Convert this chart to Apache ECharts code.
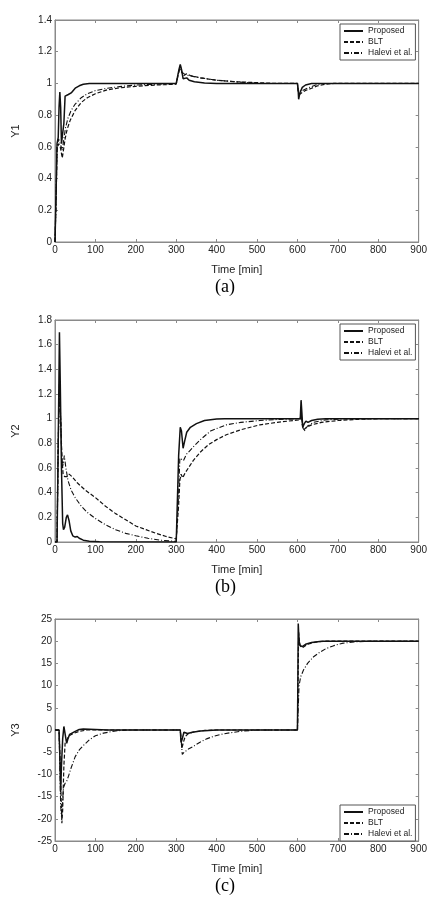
<!DOCTYPE html>
<html>
<head>
<meta charset="utf-8">
<script src="https://cdn.jsdelivr.net/npm/echarts@6/dist/echarts.min.js"></script>
<style>
  html, body { margin: 0; padding: 0; background: #fff; }
  #chart { width: 430px; height: 902px; }
</style>
</head>
<body>
<div id="chart"></div>
<script>
// [time (min), value]
const y1Proposed = [[0,0],[3,0.35],[5,0.62],[8,0.66],[10,0.85],[12,0.945],[14,0.85],[16,0.62],[19,0.62],[22,0.75],[25,0.92],[29,0.91],[33,0.93],[40,0.94],[50,0.97],[60,0.985],[70,0.995],[85,1],[300,1],[304,1],[307,1.09],[310,1.12],[313,1.09],[317,1.03],[321,1.02],[326,1.035],[332,1.02],[345,1.01],[370,1.003],[400,1],[600,1],[602,0.95],[603,0.9],[606,0.94],[612,0.975],[620,0.99],[635,1],[900,1]];
const y1Blt = [[0,0],[3,0.3],[5,0.58],[9,0.62],[13,0.6],[18,0.53],[21,0.58],[25,0.65],[30,0.71],[38,0.77],[50,0.83],[65,0.88],[80,0.91],[100,0.935],[130,0.96],[160,0.972],[200,0.982],[250,0.99],[300,0.995],[304,1],[307,1.08],[310,1.11],[314,1.07],[319,1.05],[325,1.06],[335,1.05],[360,1.035],[400,1.02],[450,1.01],[500,1.005],[550,1],[600,1],[602,0.95],[605,0.93],[610,0.94],[620,0.955],[635,0.97],[650,0.985],[670,0.995],[690,1],[900,1]];
const y1Halevi = [[0,0],[3,0.3],[5,0.6],[9,0.65],[13,0.65],[18,0.58],[22,0.65],[26,0.72],[32,0.78],[40,0.83],[50,0.87],[65,0.91],[80,0.935],[100,0.955],[130,0.97],[160,0.98],[200,0.99],[250,0.995],[300,1],[304,1],[307,1.08],[310,1.1],[314,1.07],[320,1.06],[330,1.05],[360,1.035],[400,1.02],[450,1.01],[500,1],[600,1],[602,0.95],[605,0.94],[612,0.955],[625,0.97],[645,0.99],[665,1],[900,1]];

const y2Proposed = [[0,0],[5,0],[8,0.8],[11,1.7],[13,1.3],[16,0.6],[19,0.15],[21,0.1],[24,0.12],[28,0.2],[31,0.22],[35,0.17],[39,0.09],[44,0.05],[50,0.04],[55,0.045],[60,0.03],[70,0.015],[85,0.007],[110,0.002],[300,0],[303,0],[306,0.7],[310,0.93],[313,0.9],[317,0.76],[321,0.82],[326,0.89],[335,0.93],[350,0.96],[370,0.985],[400,0.998],[420,1],[607,1],[609,1.15],[611,1.05],[613,0.93],[617,0.96],[621,0.98],[626,0.97],[635,0.985],[650,0.995],[670,1],[900,1]];
const y2Blt = [[0,0],[5,0],[8,0.8],[11,1.28],[14,1],[17,0.7],[20,0.55],[24,0.53],[30,0.53],[35,0.55],[42,0.53],[55,0.48],[75,0.42],[100,0.36],[125,0.29],[150,0.23],[175,0.18],[200,0.13],[225,0.1],[250,0.07],[275,0.045],[300,0.025],[303,0.02],[306,0.3],[309,0.5],[312,0.55],[316,0.52],[322,0.56],[330,0.6],[342,0.66],[360,0.73],[380,0.79],[400,0.83],[424,0.87],[460,0.91],[507,0.95],[550,0.97],[589,0.985],[607,0.99],[609,1.05],[612,0.95],[616,0.91],[622,0.93],[635,0.95],[660,0.97],[700,0.985],[750,0.995],[800,1],[900,1]];
const y2Halevi = [[0,0],[5,0],[8,0.8],[11,1.25],[14,1],[17,0.68],[20,0.62],[23,0.7],[27,0.6],[32,0.5],[40,0.42],[50,0.36],[65,0.29],[80,0.24],[100,0.19],[125,0.14],[150,0.1],[175,0.07],[200,0.05],[230,0.03],[260,0.015],[300,0.005],[303,0.005],[306,0.4],[309,0.68],[313,0.68],[318,0.66],[325,0.71],[342,0.77],[360,0.83],[385,0.9],[424,0.95],[460,0.97],[507,0.985],[550,0.993],[607,1],[609,1.05],[613,0.93],[617,0.9],[625,0.94],[640,0.97],[670,0.99],[720,1],[900,1]];

const y3Proposed = [[0,0],[10,0],[12,-6],[14,-14],[16,-8],[19,-2],[22,0.8],[24,0.5],[27,-2],[29,-3],[32,-2],[36,-1],[42,-0.7],[50,-0.3],[60,0.1],[70,0.2],[100,0.1],[130,0],[310,0],[312,-2.8],[315,-2],[319,-0.5],[323,-0.4],[328,-0.8],[340,-0.5],[360,-0.2],[400,0],[600,0],[601,10],[602,24],[604,20],[607,19],[612,18.8],[620,19.3],[635,19.7],[660,20],[900,20]];
const y3Blt = [[0,0],[10,0],[12,-5],[15,-15],[17,-21],[19,-18],[22,-8],[25,-3],[30,-2],[37,-1.2],[45,-0.8],[60,-0.3],[80,0],[310,0],[312,-2],[314,-4.2],[317,-3],[322,-1.5],[330,-0.8],[345,-0.4],[370,-0.1],[400,0],[600,0],[601,8],[603,22],[606,19],[612,18.5],[625,19.3],[645,19.8],[670,20],[900,20]];
const y3Halevi = [[0,0],[10,0],[12,-8],[14,-17],[16,-19.5],[18,-17],[21,-13],[25,-12],[29,-11.5],[33,-10.5],[40,-8.5],[50,-6],[60,-4.5],[70,-3.5],[85,-2.2],[100,-1.3],[120,-0.7],[150,-0.2],[180,0],[310,0],[312,-2],[315,-5.5],[320,-5],[330,-4.3],[342,-3.7],[360,-2.7],[375,-2],[390,-1.5],[410,-1],[435,-0.6],[460,-0.3],[500,0],[600,0],[602,5],[604,10],[608,12],[615,13.5],[625,15],[640,16.5],[655,17.5],[670,18.3],[690,19],[710,19.5],[740,19.85],[780,20],[900,20]];

const names = ['Proposed', 'BLT', 'Halevi et al.'];
const panels = [
  { label: 'Y1', tag: '(a)', min: 0, max: 1.4, step: 0.2, data: [y1Proposed, y1Blt, y1Halevi] },
  { label: 'Y2', tag: '(b)', min: 0, max: 1.8, step: 0.2, data: [y2Proposed, y2Blt, y2Halevi] },
  { label: 'Y3', tag: '(c)', min: -25, max: 25, step: 5, data: [y3Proposed, y3Blt, y3Halevi] },
];
const gridTops = [20, 320, 619];
const legendTops = [24, 324, 805];
const lineTypes = ['solid', [4, 2], [5, 2, 1, 2]];
const lineWidths = [1.5, 1.2, 1.1];

const font = 'Liberation Sans, Arial, sans-serif';
const boxColor = '#8a8a8a';
const ink = '#222';

const chart = echarts.init(document.getElementById('chart'));

const grid = [], xAxis = [], yAxis = [], series = [], legend = [], graphic = [];
panels.forEach((p, i) => {
  grid.push({ left: 55, top: gridTops[i], width: 364, height: 222, show: true, borderColor: boxColor, borderWidth: 1 });
  const tick = { show: true, inside: true, length: 3, lineStyle: { color: boxColor } };
  const line = { show: true, onZero: false, lineStyle: { color: boxColor } };
  xAxis.push({
    type: 'value', gridIndex: i, min: 0, max: 900, interval: 100,
    name: 'Time [min]', nameLocation: 'middle', nameGap: 22,
    nameTextStyle: { fontFamily: font, fontSize: 11, color: ink },
    axisLine: line, axisTick: tick,
    axisLabel: { fontFamily: font, fontSize: 10, color: ink, margin: 3 },
    splitLine: { show: false },
  });
  xAxis.push({
    type: 'value', gridIndex: i, position: 'top', min: 0, max: 900, interval: 100,
    axisLine: line, axisTick: tick,
    axisLabel: { show: false }, splitLine: { show: false },
  });
  yAxis.push({
    type: 'value', gridIndex: i, min: p.min, max: p.max, interval: p.step,
    name: p.label, nameLocation: 'middle', nameGap: 34, nameRotate: 90,
    nameTextStyle: { fontFamily: font, fontSize: 11, color: ink },
    axisLine: line, axisTick: tick,
    axisLabel: { fontFamily: font, fontSize: 10, color: ink, margin: 3 },
    splitLine: { show: false },
  });
  yAxis.push({
    type: 'value', gridIndex: i, position: 'right', min: p.min, max: p.max, interval: p.step,
    axisLine: line, axisTick: tick,
    axisLabel: { show: false }, splitLine: { show: false },
  });
  p.data.forEach((d, k) => {
    series.push({
      name: names[k], type: 'line', xAxisIndex: i * 2, yAxisIndex: i * 2,
      data: d, symbol: 'none', z: 10 - k,
      lineStyle: { color: '#111', width: lineWidths[k], type: lineTypes[k] },
      itemStyle: { color: '#111' },
    });
  });
  legend.push({
    data: names, orient: 'vertical', left: 340, top: legendTops[i],
    itemWidth: 19, itemHeight: 8, itemGap: 1, padding: [2, 3, 2, 3],
    borderColor: '#555', borderWidth: 1, backgroundColor: '#fff',
    itemStyle: { opacity: 0 },
    textStyle: { fontFamily: font, fontSize: 8.5, color: ink, lineHeight: 10 },
  });
  graphic.push({
    type: 'text', left: 215, top: gridTops[i] + 258,
    style: { text: p.tag, font: '18px Liberation Serif, Times New Roman, serif', fill: '#000' },
  });
});

chart.setOption({
  backgroundColor: '#fff',
  animation: false,
  grid, xAxis, yAxis, series, legend, graphic,
});
</script>
</body>
</html>
